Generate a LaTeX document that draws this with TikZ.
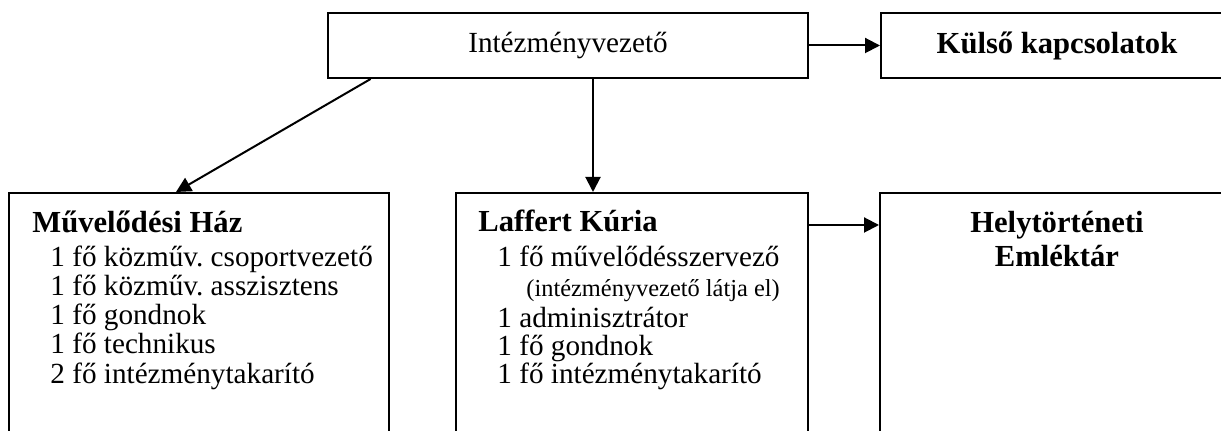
\documentclass[tikz,border=0pt]{standalone}
\usepackage{fontspec}
\setmainfont{Liberation Serif}
\usetikzlibrary{arrows.meta,calc}
\frenchspacing
\begin{document}
\begin{tikzpicture}[x=0.5pt,y=-0.5pt,
  box/.style={draw,line width=1pt,rectangle,inner sep=0pt},
  arr/.style={line width=1pt,-{Triangle[length=7.5pt,width=7.5pt]}},
  reg/.style={font=\fontsize{14.6}{17}\selectfont,inner sep=0pt},
  hd/.style={font=\fontsize{15.3}{17}\selectfont\bfseries,inner sep=0pt},
  sm/.style={font=\fontsize{12.2}{14}\selectfont,inner sep=0pt},
  ln/.style={anchor=base west}]
\useasboundingbox (0,0) rectangle (1221,431);
\clip (0,0) rectangle (1221,431);
% boxes
\node[box,minimum width=240pt,minimum height=32.5pt,reg] (top) at (568,45.5) {Intézményvezető};
\node[box,minimum width=176pt,minimum height=32.5pt,hd] (kulso) at (1057,45.5) {Külső kapcsolatok};
\node[box,minimum width=190pt,minimum height=140pt] (left) at (199,333) {};
\node[box,minimum width=176pt,minimum height=140pt] (mid) at (632,333) {};
\node[box,minimum width=176.5pt,minimum height=140pt] (right) at (1056.5,333) {};
% left texts
\node[hd,ln] (l0) at (32,233) {Művelődési Ház};
\node[reg,ln] (l1) at (50,267) {1 fő közműv. csoportvezető};
\node[reg,ln] (l2) at (50,296) {1 fő közműv. asszisztens};
\node[reg,ln] (l3) at (50,325) {1 fő gondnok};
\node[reg,ln] (l4) at (50,354) {1 fő technikus};
\node[reg,ln] (l5) at (50,384) {2 fő intézménytakarító};
% middle texts
\node[hd,ln] (m0) at (478,232) {Laffert Kúria};
\node[reg,ln] (m1) at (497,267) {1 fő művelődésszervező};
\node[sm,ln] (m2) at (526,297) {(intézményvezető látja el)};
\node[reg,ln] (m3) at (497,328) {1 adminisztrátor};
\node[reg,ln] (m4) at (497,356) {1 fő gondnok};
\node[reg,ln] (m5) at (497,384) {1 fő intézménytakarító};
% right texts
\node[hd,anchor=base] (r0) at (1057,233) {Helytörténeti};
\node[hd,anchor=base] (r1) at (1057,267) {Emléktár};
% connectors
\draw[arr] (top.east) -- (kulso.west);
\draw[arr] ([xshift=12.5pt]top.south) -- ([xshift=12.5pt]top.south |- mid.north);
\draw[arr] ([xshift=21.8pt]top.south west) -- ([xshift=84pt]left.north west);
\draw[arr] ([yshift=-16.5pt]mid.north east) -- ([yshift=-16.5pt]right.north west);
\end{tikzpicture}
\end{document}
